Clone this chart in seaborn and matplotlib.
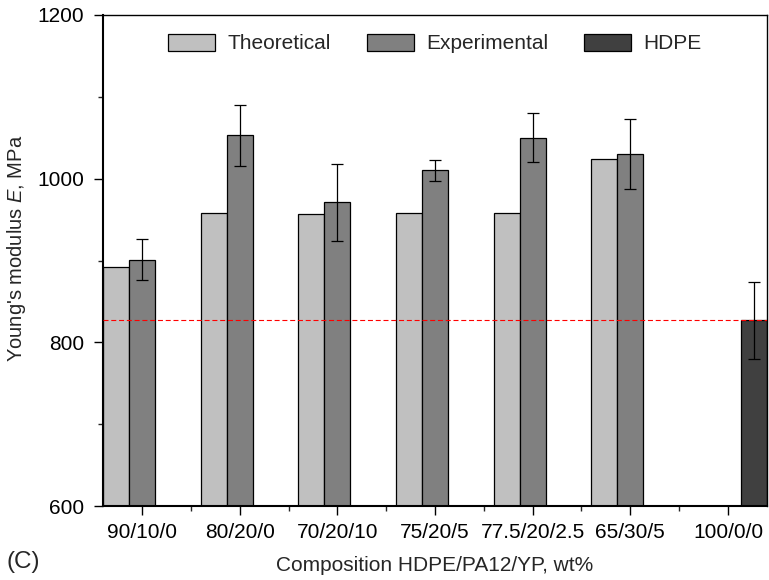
import matplotlib
matplotlib.use("Agg")
import matplotlib.pyplot as plt
import numpy as np
import pandas as pd
import seaborn as sns
from matplotlib.ticker import FixedLocator

# Blend compositions (HDPE/PA12/YP, wt%)
compositions = ["90/10/0", "80/20/0", "70/20/10", "75/20/5",
                "77.5/20/2.5", "65/30/5", "100/0/0"]
series = ["Theoretical", "Experimental", "HDPE"]
colors = ["#c0c0c0", "#808080", "#404040"]

# Young's modulus, MPa
theoretical = [892, 958, 957, 958, 958, 1024]
experimental = [901, 1053, 971, 1010, 1050, 1030]
experimental_err = [25, 37, 47, 12.5, 30, 43]
hdpe = [827]
hdpe_err = [47]

rows = []
for comp, v in zip(compositions[:6], theoretical):
    rows.append((comp, "Theoretical", v, np.nan))
for comp, v, e in zip(compositions[:6], experimental, experimental_err):
    rows.append((comp, "Experimental", v, e))
rows.append((compositions[6], "HDPE", hdpe[0], hdpe_err[0]))
df = pd.DataFrame(rows, columns=["composition", "series", "value", "err"])

sns.set_style("ticks")
plt.rcParams["font.family"] = ["Liberation Sans", "DejaVu Sans"]
plt.rcParams["mathtext.fontset"] = "custom"
plt.rcParams["mathtext.it"] = "Liberation Sans:italic"
plt.rcParams["mathtext.rm"] = "Liberation Sans"

fig = plt.figure(figsize=(7.69, 5.80), dpi=100)
ax = fig.add_axes([103 / 769, 74 / 580, 664 / 769, 491 / 580])

sns.barplot(data=df, x="composition", y="value", hue="series",
            order=compositions, hue_order=series, palette=colors,
            saturation=1, errorbar=None, width=0.8,
            edgecolor="black", linewidth=0.9, ax=ax, zorder=2)

# error bars on the drawn bars
err_lookup = {(r.composition, r.series): r.err for r in df.itertuples()}
for container, name in zip(ax.containers, series):
    for bar in container:
        cx = bar.get_x() + bar.get_width() / 2
        idx = int(round(cx))
        e = err_lookup.get((compositions[idx], name), np.nan)
        if np.isfinite(e):
            ax.errorbar(cx, bar.get_height(), yerr=e, fmt="none",
                        ecolor="black", elinewidth=0.9, capsize=4.5,
                        capthick=0.9, zorder=4)

# reference level of neat HDPE
ax.axhline(hdpe[0], color="red", linewidth=0.8,
           linestyle=(0, (4.5, 2.5)), zorder=3)

ax.set_xlim(-0.4, 6.4)
ax.set_ylim(600, 1200)
ax.set_yticks([600, 800, 1000, 1200])
ax.yaxis.set_minor_locator(FixedLocator([700, 900, 1100]))
ax.xaxis.set_minor_locator(FixedLocator(np.arange(0.5, 6, 1.0)))

ax.tick_params(axis="both", which="major", direction="out", length=6.5,
               width=1.0, labelsize=15, colors="black")
ax.tick_params(axis="y", which="major", pad=7)
ax.tick_params(axis="x", which="major", pad=6)
ax.tick_params(axis="both", which="minor", direction="out", length=3.5,
               width=1.0)
ax.tick_params(axis="x", which="minor", bottom=True)
ax.tick_params(axis="y", which="minor", left=True)

for side in ["left", "bottom"]:
    ax.spines[side].set_linewidth(1.5)
for side in ["top", "right"]:
    ax.spines[side].set_linewidth(1.0)
for sp in ax.spines.values():
    sp.set_color("black")
    sp.set_visible(True)

ax.set_xlabel("Composition HDPE/PA12/YP, wt%", fontsize=15, labelpad=10)
ax.set_ylabel(r"Young's modulus $\it{E}$, MPa", fontsize=14.5)
ax.yaxis.set_label_coords(-0.113, 0.525)

handles, labels = ax.get_legend_handles_labels()
ax.legend(handles, labels, loc="upper center", ncol=3, frameon=False,
          fontsize=15, handlelength=2.26, handleheight=0.87,
          handletextpad=0.6, columnspacing=1.7)

fig.text(7 / 769, 1 - 568 / 580, "(C)", fontsize=17.5, va="baseline",
         ha="left")

fig.savefig("out.png", dpi=100)
